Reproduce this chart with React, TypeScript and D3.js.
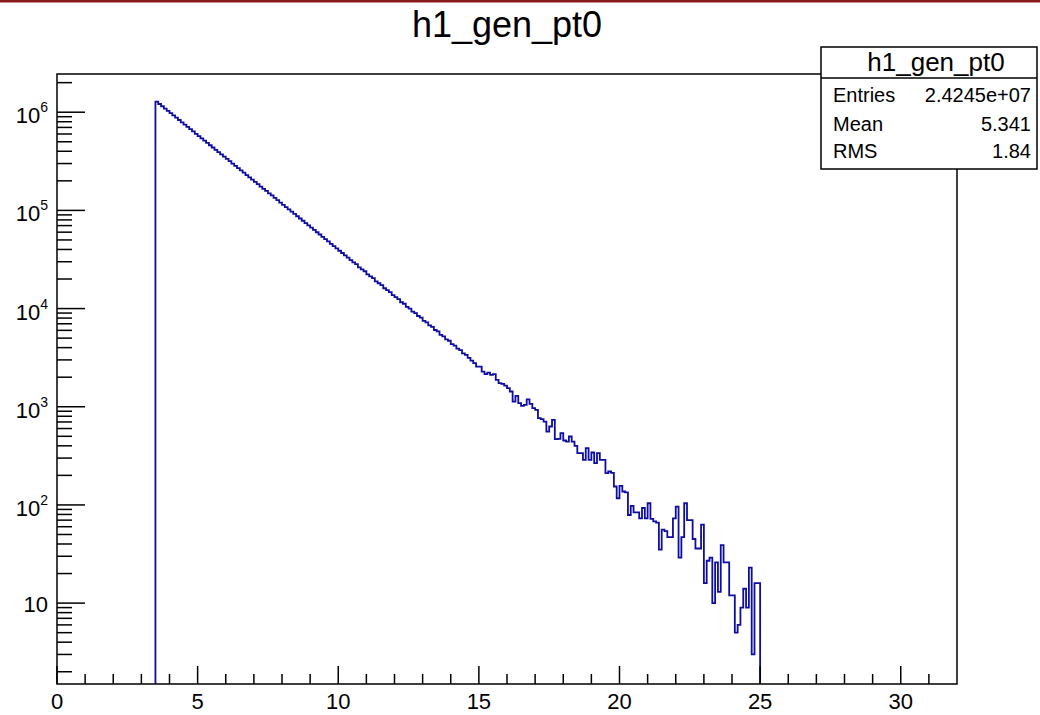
import React from 'react';
import * as d3 from 'd3';

const histTitle = 'h1_gen_pt0';
const binStart = 3.5;
const binWidth = 0.1;

// bins 3.5 .. 14.9
const countsSmooth = [
  1280000, 1213000, 1150000, 1089000, 1032000, 978000, 927000, 879000, 833000, 789000,
  748000, 709000, 672000, 637000, 603000, 572000, 542000, 513000, 487000, 461000,
  437000, 414000, 393000, 372000, 353000, 334000, 317000, 300000, 284000, 270000,
  255000, 242000, 229000, 217000, 206000, 195000, 185000, 175000, 166000, 158000,
  149000, 142000, 134000, 127000, 120000, 114000, 108000, 102500, 97100, 92100,
  87200, 82700, 78400, 74300, 70400, 66700, 63200, 59900, 56800, 53800,
  51000, 48300, 45700, 43300, 41000, 38800, 36800, 34800, 33000, 31200,
  29600, 28300, 26300, 25100, 24000, 22300, 21300, 20400, 18900, 18100,
  17300, 16100, 15400, 14700, 13700, 13100, 12500, 11600, 11200, 10400,
  10000, 9300, 9000, 8400, 8100, 7500, 7250, 6750, 6500, 6050,
  5850, 5400, 5200, 4850, 4700, 4350, 4200, 3900, 3780, 3500,
  3380, 3150, 2950, 2780, 2560,
];

// bins 15.0 .. 24.9
const countsTail = [
  2560, 2280, 2150, 2230, 2110, 2150, 1880, 1740, 1710, 1640,
  1550, 1430, 1130, 1290, 1090, 1020, 1045, 1190, 1070, 968,
  930, 765, 748, 707, 559, 629, 736, 468, 470, 538,
  453, 442, 498, 442, 400, 337, 337, 288, 379, 288,
  342, 267, 337, 288, 288, 211, 219, 212, 154, 117,
  156, 137, 134, 79, 98, 84, 84, 73, 93, 73,
  104, 72, 68, 66, 35, 56, 54, 47, 47, 73,
  96, 29, 47, 104, 70, 70, 45, 36, 36, 63,
  16, 27, 29, 10, 26, 13, 39, 26, 26, 12,
  12, 5, 6, 9, 14, 9, 23, 3, 16, 16,
];

const xMajorTicks = [0, 5, 10, 15, 20, 25, 30];
const yExponents = [1, 2, 3, 4, 5, 6];
const statsLabels = ['Entries', 'Mean', 'RMS'];
const statsValues = ['2.4245e+07', '5.341', '1.84'];

const FONT = '"Liberation Sans", Arial, Helvetica, sans-serif';

export default function App() {
  const W = 1040;
  const H = 715;
  const fx0 = 57, fx1 = 957, fy0 = 74, fy1 = 684;

  const x = d3.scaleLinear().domain([0, 32]).range([fx0, fx1]);
  const y = d3.scaleLog().domain([1.5, 2.45e6]).range([fy1, fy0]);

  const counts = [...countsSmooth, ...countsTail];
  const pts: [number, number][] = [];
  pts.push([x(binStart), fy1]);
  counts.forEach((c, i) => {
    const lo = binStart + i * binWidth;
    const hi = lo + binWidth;
    pts.push([x(lo), y(c)]);
    pts.push([x(hi), y(c)]);
  });
  pts.push([x(binStart + counts.length * binWidth), fy1]);
  const linePath = d3.line()(pts) || '';

  const xMinor = d3.range(0, 32, 1).filter((v) => v % 5 !== 0);

  const yMinor: number[] = [];
  for (let d = 0; d <= 6; d++) {
    for (let m = 2; m <= 9; m++) {
      const v = m * Math.pow(10, d);
      if (v >= 1.5 && v <= 2.45e6) yMinor.push(v);
    }
  }

  const boxX = 821, boxY = 47, boxW = 216, boxH = 122, sepY = 78;
  const rowBase = [102, 131, 158];

  return (
    <svg
      width={W}
      height={H}
      style={{ position: 'absolute', left: 0, top: 0, background: '#fff' }}
      fontFamily={FONT}
    >
      <rect x={0} y={0} width={W} height={H} fill="#ffffff" />
      <rect x={0} y={0} width={W} height={2.5} fill="#8b1a1a" />

      <text x={507} y={37} fontSize={36} textAnchor="middle" fill="#000">
        {histTitle}
      </text>

      <path d={linePath} fill="none" stroke="#0d0da3" strokeWidth={1.8} strokeLinejoin="miter" />

      <rect x={fx0} y={fy0} width={fx1 - fx0} height={fy1 - fy0} fill="none" stroke="#000" strokeWidth={1.5} />

      {xMajorTicks.map((t) => (
        <g key={'xM' + t}>
          <line x1={x(t)} x2={x(t)} y1={fy1} y2={fy1 - 18} stroke="#000" strokeWidth={1.5} />
          <text x={x(t)} y={709} fontSize={22} textAnchor="middle" fill="#000">
            {t}
          </text>
        </g>
      ))}
      {xMinor.map((t) => (
        <line key={'xm' + t} x1={x(t)} x2={x(t)} y1={fy1} y2={fy1 - 10} stroke="#000" strokeWidth={1.5} />
      ))}

      {yExponents.map((e) => {
        const v = Math.pow(10, e);
        const ty = y(v);
        return (
          <g key={'yM' + e}>
            <line x1={fx0} x2={fx0 + 28} y1={ty} y2={ty} stroke="#000" strokeWidth={1.5} />
            {e === 1 ? (
              <text x={48} y={ty + 9} fontSize={22} textAnchor="end" fill="#000">
                10
              </text>
            ) : (
              <text x={48} y={ty + 11} fontSize={22} textAnchor="end" fill="#000">
                10
                <tspan dy={-11} fontSize={14}>
                  {e}
                </tspan>
              </text>
            )}
          </g>
        );
      })}
      {yMinor.map((v) => (
        <line key={'ym' + v} x1={fx0} x2={fx0 + 15} y1={y(v)} y2={y(v)} stroke="#000" strokeWidth={1.5} />
      ))}

      <rect x={boxX} y={boxY} width={boxW} height={boxH} fill="#fff" stroke="#000" strokeWidth={1.5} />
      <line x1={boxX} x2={boxX + boxW} y1={sepY} y2={sepY} stroke="#000" strokeWidth={1.5} />
      <text x={936} y={71} fontSize={26} textAnchor="middle" fill="#000">
        {histTitle}
      </text>
      {statsLabels.map((l, i) => (
        <g key={l}>
          <text x={833} y={rowBase[i]} fontSize={20} fill="#000">
            {l}
          </text>
          <text x={1031} y={rowBase[i]} fontSize={20} textAnchor="end" fill="#000">
            {statsValues[i]}
          </text>
        </g>
      ))}
    </svg>
  );
}
